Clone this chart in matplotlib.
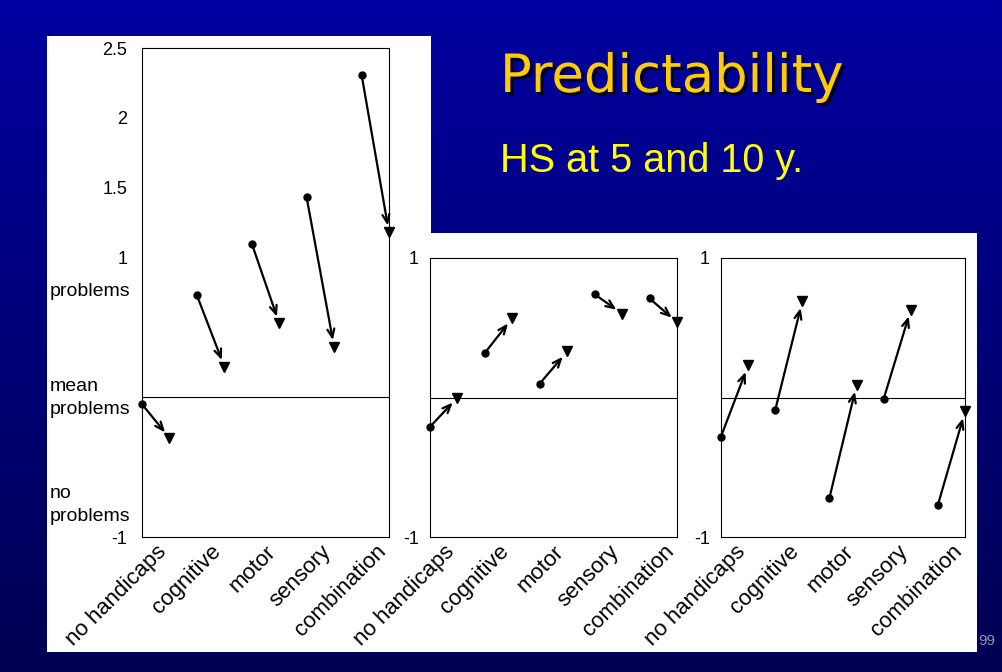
import matplotlib
matplotlib.use("Agg")

import numpy as np
import matplotlib.pyplot as plt
import matplotlib.patheffects as pe
from matplotlib.patches import Rectangle

W, H = 1003, 672

categories = ["no handicaps", "cognitive", "motor", "sensory", "combination"]

# scores at 5 y (dot) and 10 y (triangle), one pair per category
left_5y = [-0.05, 0.73, 1.10, 1.43, 2.31]
left_10y = [-0.29, 0.22, 0.53, 0.36, 1.18]
mid_5y = [-0.21, 0.32, 0.10, 0.74, 0.71]
mid_10y = [0.00, 0.57, 0.33, 0.60, 0.54]
right_5y = [-0.28, -0.09, -0.72, -0.01, -0.77]
right_10y = [0.23, 0.69, 0.09, 0.63, -0.10]

left_ticks = [-1, 1, 1.5, 2, 2.5]
left_ticklabels = ["-1", "1", "1.5", "2", "2.5"]
small_ticks = [-1, 1]
small_ticklabels = ["-1", "1"]

FONT = "Liberation Sans"


def px_rect(x0, y0, x1, y1):
    # pixel box (top-left origin) -> figure fraction [l, b, w, h]
    return [x0 / W, 1 - y1 / H, (x1 - x0) / W, (y1 - y0) / H]


def fx(x):
    return x / W


def fy(y):
    return 1 - y / H


fig = plt.figure(figsize=(W / 100, H / 100), dpi=100)

# blue gradient slide background
bg = fig.add_axes([0, 0, 1, 1], zorder=-10)
grad = np.linspace(0, 1, 256).reshape(-1, 1)
top = np.array([0, 0, 160]) / 255
bottom = np.array([0, 0, 82]) / 255
img = top + (bottom - top) * grad[:, :, None]
bg.imshow(img, aspect="auto", extent=[0, 1, 0, 1])
bg.set_axis_off()

# white panels behind the charts
for box in [px_rect(47, 36, 431, 652), px_rect(47, 233, 977, 652)]:
    fig.patches.append(Rectangle((box[0], box[1]), box[2], box[3],
                                 transform=fig.transFigure, facecolor="white",
                                 edgecolor="none", zorder=-5))


def draw_panel(rect, start, end, ylim, ticks, ticklabels, pad):
    ax = fig.add_axes(rect)
    ax.set_facecolor("none")
    x = np.arange(len(categories))
    xs = 2 * x
    xe = 2 * x + 1
    ax.axhline(0, color="black", lw=0.8, zorder=1)
    for a, b, s, e in zip(xs, xe, start, end):
        ax.annotate("", xy=(b, e), xytext=(a, s),
                    arrowprops=dict(arrowstyle="->,head_length=0.6,head_width=0.25",
                                    lw=1.6, color="black", shrinkA=0, shrinkB=5),
                    annotation_clip=False, zorder=3)
    ax.plot(xs, start, "o", color="black", ms=5, clip_on=False, zorder=4)
    ax.plot(xe, end, "v", color="black", ms=7.5, clip_on=False, zorder=4)
    ax.set_xlim(0, 9)
    ax.set_ylim(*ylim)
    ax.set_yticks(ticks)
    ax.set_yticklabels(ticklabels, fontsize=13, family=FONT)
    ax.set_xticks(xe - 0.5)
    ax.set_xticklabels(categories, rotation=45, ha="right", va="top",
                       rotation_mode="anchor", fontsize=16, family=FONT)
    ax.tick_params(length=0)
    ax.tick_params(axis="y", pad=pad)
    ax.tick_params(axis="x", pad=3)
    for sp in ax.spines.values():
        sp.set_linewidth(0.8)
    return ax


draw_panel(px_rect(142, 48, 389, 537), left_5y, left_10y, (-1, 2.5),
           left_ticks, left_ticklabels, 10.5)
draw_panel(px_rect(430, 258, 677, 537), mid_5y, mid_10y, (-1, 1),
           small_ticks, small_ticklabels, 8)
draw_panel(px_rect(721, 258, 965, 537), right_5y, right_10y, (-1, 1),
           small_ticks, small_ticklabels, 8)

# verbal anchors on the left scale
for label, y in [("problems", 291), ("mean\nproblems", 398), ("no\nproblems", 505)]:
    fig.text(fx(50), fy(y), label, ha="left", va="center", fontsize=14,
             family=FONT, linespacing=1.5)

fig.text(fx(500), fy(92), "Predictability", color="#FFCC00", fontsize=38,
         family="DejaVu Sans", va="baseline", ha="left",
         path_effects=[pe.withSimplePatchShadow(offset=(2, -2), shadow_rgbFace="black", alpha=1)])
fig.text(fx(500), fy(172), "HS at 5 and 10 y.", color="#FFFF00", fontsize=28.5,
         family=FONT, va="baseline", ha="left")

fig.text(fx(978), fy(641), "99", color="#9090B0", fontsize=11, family=FONT,
         va="center", ha="left")

fig.savefig("out.png", dpi=100)
